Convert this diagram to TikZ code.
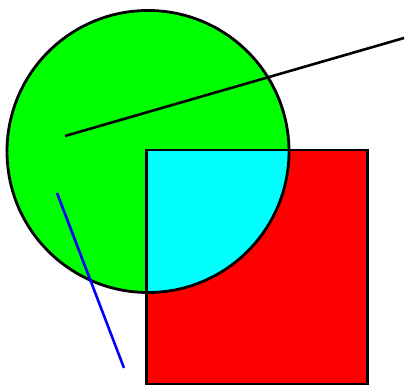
\documentclass[tikz,border=0pt]{standalone}
\definecolor{puregreen}{RGB}{0,255,0}
\definecolor{purered}{RGB}{255,0,0}
\definecolor{purecyan}{RGB}{0,255,255}
\definecolor{pureblue}{RGB}{0,0,255}
\begin{document}
\begin{tikzpicture}[x=1pt,y=-1pt,
  outline/.style={draw=black,line width=2.8pt},
  seg/.style={line width=2.6pt}]
\useasboundingbox (0,0) rectangle (406,387);
\coordinate (c) at (148,151.5);
\coordinate (r1) at (146.5,150);
\coordinate (r2) at (367.5,384);
% circle
\fill[puregreen] (c) circle (141);
% rectangle
\fill[purered] (r1) rectangle (r2);
% overlap
\begin{scope}
\clip (r1) rectangle (r2);
\fill[purecyan] (c) circle (141);
\end{scope}
\draw[outline] (c) circle (141);
\draw[outline] (r1) rectangle (r2);
% lines
\coordinate (a1) at (65,136);
\coordinate (a2) at (404,38);
\draw[seg,black] (a1) -- (a2);
\coordinate (b1) at (57,193);
\coordinate (b2) at (124,368);
\draw[seg,pureblue] (b1) -- (b2);
\end{tikzpicture}
\end{document}
